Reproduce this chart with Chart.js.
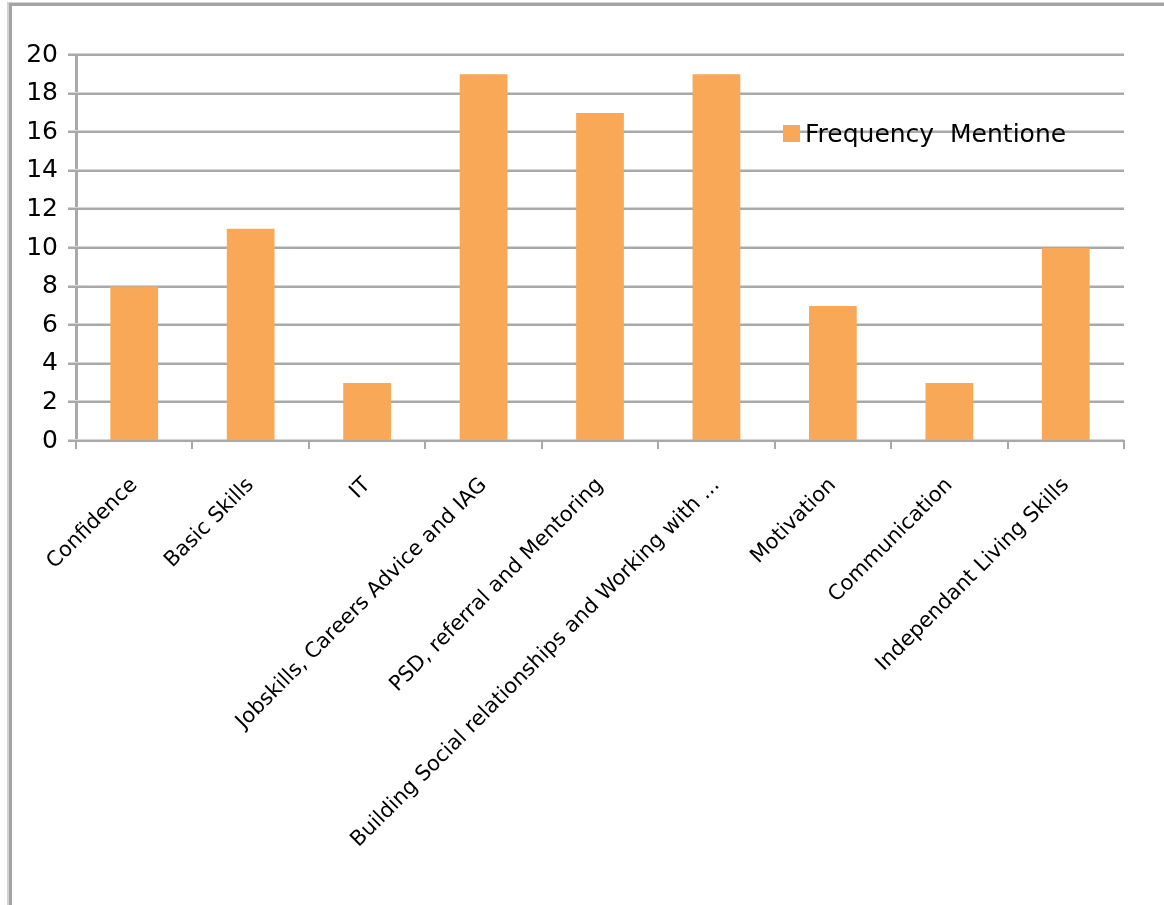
<!DOCTYPE html>
<html>
<head>
<meta charset="utf-8">
<script src="https://cdn.jsdelivr.net/npm/chart.js@4.4.1/dist/chart.umd.min.js"></script>
<style>
  html, body { margin: 0; padding: 0; background: #ffffff; }
  body { width: 1164px; height: 905px; position: relative; overflow: hidden; }
  #frame { position: absolute; left: 9px; top: 3px; width: 1200px; height: 960px;
           border-left: 3px solid #a4a4a4; border-top: 3px solid #a4a4a4;
           box-shadow: -2px -1px 0 #d2d2d2; }
  #wrap { position: absolute; left: 0; top: 0; width: 1164px; height: 905px; }
</style>
</head>
<body>
<div id="frame"></div>
<div id="wrap"><canvas id="c" width="1164" height="905"></canvas></div>
<script>
const categories = [
  "Confidence",
  "Basic Skills",
  "IT",
  "Jobskills, Careers Advice and IAG",
  "PSD, referral and Mentoring",
  "Building Social relationships and Working with ...",
  "Motivation",
  "Communication",
  "Independant Living Skills"
];
const seriesLabel = "Frequency  Mentioned";
const frequencyMentioned = [8, 11, 3, 19, 17, 19, 7, 3, 10];
const yMin = 0, yMax = 20, yStep = 2;

const barColor = '#F9A857';
const gridDark = '#a9a9a9';
const gridLight = '#d4d4d4';

const shadowGrid = {
  id: 'shadowGrid',
  beforeDatasetsDraw(chart) {
    const y = chart.scales.y, ca = chart.chartArea, ctx = chart.ctx;
    ctx.save();
    ctx.strokeStyle = gridLight;
    ctx.lineWidth = 1;
    y.ticks.forEach(t => {
      const py = Math.round(y.getPixelForValue(t.value)) - 1.5;
      ctx.beginPath();
      ctx.moveTo(ca.left - 8, py);
      ctx.lineTo(ca.right, py);
      ctx.stroke();
    });
    ctx.restore();
  }
};

const clippedLegend = {
  id: 'clippedLegend',
  afterDraw(chart) {
    const ds = chart.data.datasets[0];
    const ctx = chart.ctx;
    ctx.save();
    ctx.fillStyle = ds.backgroundColor;
    ctx.fillRect(783, 125, 17, 17);
    ctx.beginPath();
    ctx.rect(780, 100, 285, 60);
    ctx.clip();
    ctx.fillStyle = '#000000';
    ctx.font = '25px "DejaVu Sans"';
    ctx.textBaseline = 'alphabetic';
    ctx.textAlign = 'left';
    ctx.fillText(ds.label, 805, 142);
    ctx.restore();
  }
};

new Chart(document.getElementById('c'), {
  type: 'bar',
  data: {
    labels: categories,
    datasets: [{
      label: seriesLabel,
      data: frequencyMentioned,
      backgroundColor: barColor,
      borderWidth: 0,
      categoryPercentage: 1.0,
      barPercentage: 0.41
    }]
  },
  options: {
    responsive: false,
    animation: false,
    devicePixelRatio: 1,
    layout: { padding: { left: 0, right: 40, top: 55, bottom: 0 } },
    plugins: {
      legend: { display: false },
      tooltip: { enabled: false },
      title: { display: false }
    },
    scales: {
      x: {
        offset: true,
        grid: {
          display: true,
          drawOnChartArea: false,
          drawTicks: true,
          tickLength: 8,
          color: gridDark,
          lineWidth: 2,
          offset: true
        },
        border: { display: true, color: gridDark, width: 2 },
        ticks: {
          autoSkip: false,
          maxRotation: 45,
          minRotation: 45,
          padding: 24,
          color: '#000000',
          font: { family: '"DejaVu Sans"', size: 21 }
        },
        afterFit(scale) { scale.height = 464; }
      },
      y: {
        min: yMin,
        max: yMax,
        ticks: {
          stepSize: yStep,
          padding: 10,
          color: '#000000',
          font: { family: '"DejaVu Sans"', size: 25 }
        },
        grid: {
          color: gridDark,
          lineWidth: 2,
          tickLength: 8,
          drawTicks: true
        },
        border: { display: true, color: gridDark, width: 3 },
        afterFit(scale) { scale.width = 76; }
      }
    }
  },
  plugins: [shadowGrid, clippedLegend]
});
</script>
</body>
</html>
